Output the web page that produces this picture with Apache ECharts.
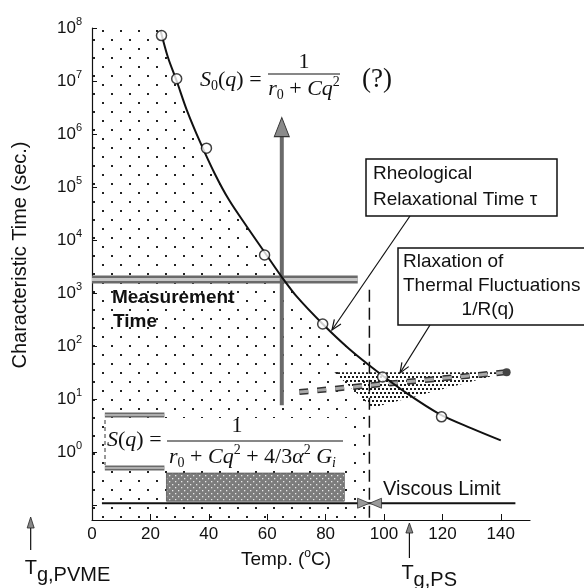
<!DOCTYPE html>
<html><head><meta charset="utf-8">
<script src="https://cdn.jsdelivr.net/npm/echarts@6/dist/echarts.min.js"></script>
<style>html,body{margin:0;padding:0;background:#fff}#c{width:584px;height:588px}</style>
</head><body><div id="c"></div>
<script>
// ---------- data ----------
const tempTicks = [0, 20, 40, 60, 80, 100, 120, 140];
const xMin = 0, xMax = 150;
const yMin = 0.0521, yMax = 1e8;

// rheological relaxation time tau (smooth curve), T in degC, tau in s
const curveT   = [23.5, 26, 29, 32.5, 37, 42, 47, 53, 60, 65, 70, 79, 88, 98, 108, 119, 130, 140];
const curveTau = [8.9e7, 2.8e7, 1.0e7, 2.8e6, 7.1e5, 1.8e5, 5.6e4, 1.8e4, 5.0e3, 2.0e3, 8.7e2, 2.6e2, 89, 32, 12.6, 5.2, 2.8, 1.66];

// measured points (open circles)
const pointT   = [23.8, 29, 39.2, 59.1, 79, 99.5, 119.7];
const pointTau = [7.2e7, 1.1e7, 5.4e5, 5.2e3, 2.6e2, 26, 4.6];

// dotted (non-equilibrium) region limits
const dashedT = 95, dashedTopTau = 1150, tauAtDashed = 40;

// measurement time band
const measT = [0, 91], measTau = 1800;
// vertical arrow at T = 65
const arrowT = 65, arrowTau = [7.6, 1.35e6];
// relaxation of thermal fluctuations 1/R(q)
const fluctT = [71, 142], fluctTau = [13.5, 32];
// speckled fan
const fanT = [83, 142, 96], fanTau = [32, 32, 6.8];
// viscous limit
const viscT = [3.4, 145], viscTau = 0.108, viscArrowT = [93, 97.1];
// dark bar
const darkT = [25.5, 86.4], darkTau = [0.4, 0.118];
// hatched bars of the S(q) box
const sqBarT = [4.4, 24.8], sqBarTau = [5.0, 0.5];
// glass transition temperatures (arrows under the axis)
const tgT = [-21, 108.7];

// ---------- helpers ----------
const sans = '"Liberation Sans", Arial, Helvetica, sans-serif';
const serif = '"Liberation Serif", "Times New Roman", serif';
const ink = '#111';

function pattern(w, h, bg, fg, dots, s) {
  const c = document.createElement('canvas');
  c.width = w; c.height = h;
  const ctx = c.getContext('2d');
  if (bg) { ctx.fillStyle = bg; ctx.fillRect(0, 0, w, h); }
  ctx.fillStyle = fg;
  dots.forEach(d => ctx.fillRect(d[0], d[1], s, s));
  return { image: c, repeat: 'repeat' };
}
const dotFill = pattern(18, 18, null, '#222', [[3, 3], [12, 12]], 2);
const fanFill = pattern(8, 8, null, '#1a1a1a', [[0, 0], [4, 0], [2, 4], [6, 4]], 2);
const darkFill = pattern(6, 6, '#7c7c7c', '#e8e8e8', [[1, 1], [4, 4]], 1.3);

function seg(t1, v1, t2, v2, lineStyle, z, extra) {
  return Object.assign({
    type: 'line', data: [[t1, v1], [t2, v2]], symbol: 'none', silent: true,
    lineStyle: lineStyle, z: z, animation: false
  }, extra || {});
}

const region = [[xMin, yMax], [curveT[0], yMax]];
curveT.forEach((t, i) => { if (t < dashedT) region.push([t, curveTau[i]]); });
region.push([dashedT, tauAtDashed], [dashedT, yMin]);

const yLabelRich = {
  b: { fontSize: 17, color: ink, fontFamily: sans },
  s: { fontSize: 11, color: ink, fontFamily: sans, padding: [0, 0, 13, 0] }
};

const option = {
  animation: false,
  backgroundColor: '#fff',
  grid: { left: 92, right: 54, top: 28, bottom: 68 },
  xAxis: {
    type: 'value', min: xMin, max: xMax,
    axisLine: { show: true, onZero: false, lineStyle: { color: ink, width: 1.2 } },
    axisTick: { show: true, inside: true, length: 6, customValues: tempTicks, lineStyle: { color: ink } },
    axisLabel: { customValues: tempTicks, fontSize: 17, color: ink, margin: 6, fontFamily: sans },
    splitLine: { show: false },
    name: '{n|Temp. (}{s|o}{n|C)}', nameLocation: 'middle', nameGap: 26,
    nameTextStyle: {
      padding: [0, 50, 0, 0],
      rich: {
        n: { fontSize: 19, color: ink, fontFamily: sans },
        s: { fontSize: 12, color: ink, fontFamily: sans, padding: [0, 0, 12, 0] }
      }
    }
  },
  yAxis: {
    type: 'log', logBase: 10, min: yMin, max: yMax,
    axisLine: { show: true, lineStyle: { color: ink, width: 1.2 } },
    axisTick: { show: true, inside: true, length: 5, lineStyle: { color: ink } },
    axisLabel: {
      margin: 10, rich: yLabelRich,
      formatter: function (v) {
        const l = Math.log10(v), e = Math.round(l);
        if (v < 0.9 || Math.abs(l - e) > 0.01) return '';
        return '{b|10}{s|' + e + '}';
      }
    },
    splitLine: { show: false },
    name: 'Characteristic Time (sec.)', nameLocation: 'middle', nameGap: 62,
    nameTextStyle: { fontSize: 20, color: ink, fontFamily: sans, padding: [0, 0, 0, 38] }
  },
  series: [
    { type: 'line', data: region, symbol: 'none', silent: true, z: 1,
      lineStyle: { width: 0, opacity: 0 }, areaStyle: { color: dotFill, opacity: 1 } },
    { type: 'custom', silent: true, z: 2, data: [[fanT[0], fanTau[0]]],
      renderItem: function (params, api) {
        return { type: 'polygon',
          shape: { points: fanT.map((t, i) => api.coord([t, fanTau[i]])) },
          style: { fill: fanFill } };
      } },
    { type: 'custom', silent: true, z: 2, data: [[darkT[0], darkTau[0]]],
      renderItem: function (params, api) {
        const a = api.coord([darkT[0], darkTau[0]]), b = api.coord([darkT[1], darkTau[1]]);
        return { type: 'rect', shape: { x: a[0], y: a[1], width: b[0] - a[0], height: b[1] - a[1] },
          style: { fill: darkFill, stroke: '#555', lineWidth: 0.8 } };
      } },
    // measurement time band
    seg(measT[0], measTau, measT[1], measTau, { color: '#6a6a6a', width: 8 }, 3),
    seg(measT[0], measTau, measT[1], measTau, { color: '#c6c6c6', width: 3 }, 3),
    // S(q) hatched bars
    seg(sqBarT[0], sqBarTau[0], sqBarT[1], sqBarTau[0], { color: '#6a6a6a', width: 5 }, 3),
    seg(sqBarT[0], sqBarTau[0], sqBarT[1], sqBarTau[0], { color: '#c6c6c6', width: 1.5 }, 3),
    seg(sqBarT[0], sqBarTau[1], sqBarT[1], sqBarTau[1], { color: '#6a6a6a', width: 5 }, 3),
    seg(sqBarT[0], sqBarTau[1], sqBarT[1], sqBarTau[1], { color: '#c6c6c6', width: 1.5 }, 3),
    // vertical gray arrow
    seg(arrowT, arrowTau[0], arrowT, arrowTau[1], { color: '#6a6a6a', width: 4 }, 3, {
      markPoint: { symbol: 'triangle', symbolSize: [15, 19], silent: true, label: { show: false },
        itemStyle: { color: '#8a8a8a', borderColor: '#333', borderWidth: 1 },
        data: [{ coord: [arrowT, arrowTau[1]] }] }
    }),
    // dashed vertical line
    seg(dashedT, dashedTopTau, dashedT, yMin, { color: ink, width: 1.5, type: [12, 6] }, 3),
    // 1/R(q)
    seg(fluctT[0], fluctTau[0], fluctT[1], fluctTau[1], { color: '#333', width: 6, type: [9, 9] }, 4),
    seg(fluctT[0], fluctTau[0], fluctT[1], fluctTau[1], { color: '#a8a8a8', width: 3, type: [9, 9] }, 4, {
      markPoint: { symbol: 'circle', symbolSize: 8, silent: true, label: { show: false },
        itemStyle: { color: '#444' }, data: [{ coord: [fluctT[1], fluctTau[1]] }] }
    }),
    // viscous limit
    seg(viscT[0], viscTau, viscT[1], viscTau, { color: ink, width: 2 }, 4, {
      markPoint: { symbol: 'triangle', symbolSize: [10, 12], silent: true, label: { show: false },
        itemStyle: { color: '#999', borderColor: '#333', borderWidth: 0.8 },
        data: [{ coord: [viscArrowT[0], viscTau], symbolRotate: -90 },
               { coord: [viscArrowT[1], viscTau], symbolRotate: 90 }] }
    }),
    // rheological relaxation time curve
    { type: 'line', data: curveT.map((t, i) => [t, curveTau[i]]), smooth: 0.3, symbol: 'none',
      silent: true, z: 5, lineStyle: { color: ink, width: 2 } },
    { type: 'scatter', data: pointT.map((t, i) => [t, pointTau[i]]), symbol: 'circle', symbolSize: 10,
      silent: true, z: 6, itemStyle: { color: '#fff', borderColor: ink, borderWidth: 1.5 } }
  ]
};

const chart = echarts.init(document.getElementById('c'), null, { renderer: 'canvas' });
chart.setOption(option);

// ---------- annotations ----------
const R = {
  i: { fontFamily: serif, fontStyle: 'italic', fontSize: 22, fill: ink },
  n: { fontFamily: serif, fontSize: 22, fill: ink },
  sub: { fontFamily: serif, fontSize: 14, fill: ink, padding: [13, 0, 0, 0] },
  isub: { fontFamily: serif, fontStyle: 'italic', fontSize: 14, fill: ink, padding: [13, 0, 0, 0] },
  sup: { fontFamily: serif, fontSize: 14, fill: ink, padding: [0, 0, 13, 0] }
};
function rtext(x, y, text, align) {
  return { type: 'text', x: x, y: y, z: 12, silent: true,
    style: { text: text, rich: R, align: align || 'left', verticalAlign: 'middle' } };
}
function stext(x, y, text, size, align, weight) {
  return { type: 'text', x: x, y: y, z: 12, silent: true,
    style: { text: text, fontFamily: sans, fontSize: size, fill: ink, fontWeight: weight || 'normal',
      align: align || 'left', verticalAlign: 'middle' } };
}
function hline(x1, x2, y, w) {
  return { type: 'line', z: 12, silent: true, shape: { x1: x1, y1: y, x2: x2, y2: y }, style: { stroke: ink, lineWidth: w || 1.2 } };
}
function leader(x1, y1, x2, y2) {
  const dx = x2 - x1, dy = y2 - y1, L = Math.hypot(dx, dy), ux = dx / L, uy = dy / L;
  const bx = x2 - ux * 10, by = y2 - uy * 10;
  return [
    { type: 'line', z: 12, silent: true, shape: { x1: x1, y1: y1, x2: x2, y2: y2 }, style: { stroke: ink, lineWidth: 1.2 } },
    { type: 'polyline', z: 12, silent: true,
      shape: { points: [[bx - uy * 4, by + ux * 4], [x2, y2], [bx + uy * 4, by - ux * 4]] },
      style: { stroke: ink, lineWidth: 1.2, fill: null } }
  ];
}
function tgArrow(x, tipY, baseY, endY) {
  return [
    { type: 'line', z: 12, silent: true, shape: { x1: x, y1: baseY, x2: x, y2: endY }, style: { stroke: ink, lineWidth: 1.2 } },
    { type: 'polygon', z: 12, silent: true, shape: { points: [[x, tipY], [x - 3.5, baseY], [x + 3.5, baseY]] },
      style: { fill: '#888', stroke: '#222', lineWidth: 0.8 } }
  ];
}
const TgR = {
  t: { fontFamily: sans, fontSize: 20, fill: ink, padding: [0, 0, 7, 0] },
  g: { fontFamily: sans, fontSize: 20, fill: ink, padding: [7, 0, 0, 0] }
};

const xPVME = chart.convertToPixel({ gridIndex: 0 }, [tgT[0], 1])[0];
const xPS = chart.convertToPixel({ gridIndex: 0 }, [tgT[1], 1])[0];

const g = [];
// S(q) box
g.push({ type: 'rect', z: 10, silent: true, shape: { x: 104, y: 418, width: 243, height: 47 }, style: { fill: '#fff' } });
g.push({ type: 'line', z: 11, silent: true, shape: { x1: 105, y1: 420, x2: 105, y2: 465 }, style: { stroke: '#333', lineWidth: 1, lineDash: [4, 3] } });
g.push(rtext(107, 440, '{i|S}{n|(}{i|q}{n|) =}'));
g.push(rtext(237, 426, '{n|1}', 'center'));
g.push(hline(167, 343, 441));
g.push(rtext(169, 457, '{i|r}{sub|0}{n| + }{i|Cq}{sup|2}{n| + 4/3}{i|α}{sup|2}{n| }{i|G}{isub|i}'));
// S0(q) formula
g.push(rtext(200, 80, '{i|S}{sub|0}{n|(}{i|q}{n|) =}'));
g.push(rtext(304, 62, '{n|1}', 'center'));
g.push(hline(268, 340, 74));
g.push(rtext(304, 89, '{i|r}{sub|0}{n| + }{i|Cq}{sup|2}', 'center'));
g.push({ type: 'text', x: 362, y: 80, z: 12, silent: true,
  style: { text: '(?)', fontFamily: serif, fontSize: 27, fill: ink, align: 'left', verticalAlign: 'middle' } });
// Measurement time label
g.push(stext(112, 298, 'Measurement', 19, 'left', 'bold'));
g.push(stext(113, 322, 'Time', 19, 'left', 'bold'));
// Rheological box
g.push({ type: 'rect', z: 11, silent: true, shape: { x: 366, y: 159, width: 191, height: 57 }, style: { fill: '#fff', stroke: ink, lineWidth: 1.5 } });
g.push(stext(373, 174, 'Rheological', 19));
g.push(stext(373, 200, 'Relaxational Time τ', 19));
leader(410, 216, 332, 330).forEach(e => g.push(e));
// Thermal fluctuation box
g.push({ type: 'rect', z: 11, silent: true, shape: { x: 398, y: 248, width: 210, height: 77 }, style: { fill: '#fff', stroke: ink, lineWidth: 1.5 } });
g.push(stext(403, 262, 'Rlaxation of', 19));
g.push(stext(403, 286, 'Thermal Fluctuations', 19));
g.push(stext(488, 310, '1/R(q)', 19, 'center'));
leader(430, 325, 400, 373).forEach(e => g.push(e));
// Viscous limit label
g.push(stext(383, 489, 'Viscous Limit', 20));
// Tg arrows
tgArrow(xPVME, 517, 528, 550).forEach(e => g.push(e));
tgArrow(xPS, 523, 533, 558).forEach(e => g.push(e));
g.push({ type: 'text', x: xPVME - 6, y: 572, z: 12, silent: true,
  style: { text: '{t|T}{g|g,PVME}', rich: TgR, align: 'left', verticalAlign: 'middle' } });
g.push({ type: 'text', x: xPS - 8, y: 577, z: 12, silent: true,
  style: { text: '{t|T}{g|g,PS}', rich: TgR, align: 'left', verticalAlign: 'middle' } });

chart.setOption({ graphic: { elements: g } });
</script>
</body></html>
